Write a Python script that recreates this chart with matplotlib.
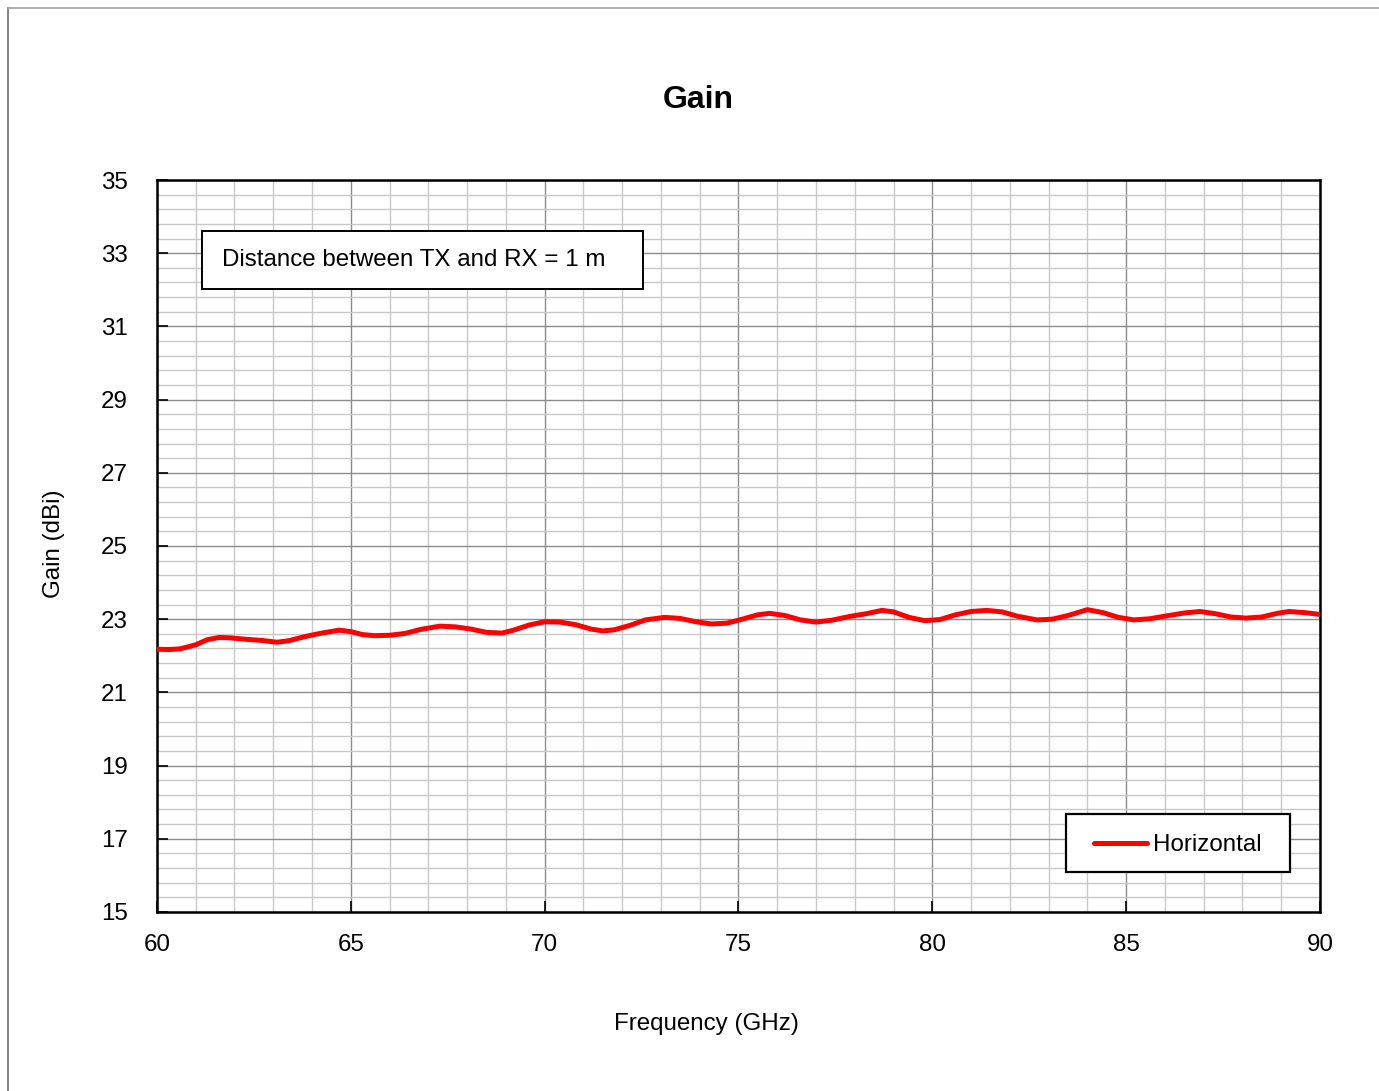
import numpy as np
import matplotlib
matplotlib.use("Agg")
import matplotlib.pyplot as plt
from matplotlib.ticker import MultipleLocator, FixedLocator
from matplotlib.lines import Line2D
from matplotlib.patches import Rectangle

# Gain vs frequency
freq = [60.0, 60.3, 60.6, 61.0, 61.3, 61.6, 61.9, 62.3, 62.7, 63.1, 63.4, 63.8,
        64.2, 64.7, 65.0, 65.3, 65.6, 66.0, 66.4, 66.8, 67.3, 67.7, 68.1, 68.5,
        68.9, 69.2, 69.6, 70.0, 70.4, 70.8, 71.2, 71.5, 71.8, 72.2, 72.6, 73.1,
        73.5, 73.9, 74.3, 74.7, 75.1, 75.5, 75.8, 76.2, 76.6, 77.0, 77.4, 77.9,
        78.3, 78.7, 79.0, 79.4, 79.8, 80.2, 80.6, 81.0, 81.4, 81.8, 82.2, 82.7,
        83.1, 83.5, 84.0, 84.4, 84.8, 85.2, 85.6, 86.1, 86.5, 86.9, 87.3, 87.7,
        88.1, 88.5, 88.9, 89.2, 89.6, 90.0]
gain = [22.18, 22.17, 22.19, 22.30, 22.44, 22.50, 22.49, 22.45, 22.42, 22.37, 22.41, 22.52,
        22.61, 22.70, 22.66, 22.58, 22.55, 22.56, 22.61, 22.72, 22.81, 22.79, 22.73, 22.64,
        22.62, 22.70, 22.84, 22.93, 22.92, 22.85, 22.73, 22.68, 22.71, 22.83, 22.98, 23.05,
        23.02, 22.93, 22.87, 22.89, 23.00, 23.12, 23.16, 23.10, 22.98, 22.92, 22.97, 23.08,
        23.15, 23.24, 23.20, 23.05, 22.96, 22.99, 23.12, 23.21, 23.24, 23.20, 23.08, 22.98,
        23.00, 23.10, 23.26, 23.18, 23.05, 22.98, 23.01, 23.10, 23.17, 23.21, 23.15, 23.06,
        23.03, 23.06, 23.16, 23.21, 23.18, 23.13]
y_ticks = [15, 17, 19, 21, 23, 25, 27, 29, 31, 33, 35]

plt.rcParams["font.family"] = ["Liberation Sans", "DejaVu Sans"]
fs = 17.4

fig = plt.figure(figsize=(13.79, 10.91), dpi=100)
ax = fig.add_axes([0.1138, 0.1641, 0.8434, 0.6709])

ax.plot(freq, gain, color="#ff0000", linewidth=3.6, solid_capstyle="round",
        solid_joinstyle="round", label="Horizontal", zorder=3)

ax.set_xlim(60, 90)
ax.set_ylim(15, 35)
ax.xaxis.set_major_locator(MultipleLocator(5))
ax.xaxis.set_minor_locator(MultipleLocator(1))
ax.yaxis.set_major_locator(FixedLocator(y_ticks))
ax.yaxis.set_minor_locator(FixedLocator(np.arange(15, 35.01, 0.4)))

ax.grid(which="minor", color="#c8c8c8", linewidth=1.0)
ax.grid(which="major", color="#8c8c8c", linewidth=1.0)
ax.set_axisbelow(True)

ax.tick_params(which="major", direction="in", length=8, width=1.2, labelsize=fs)
ax.tick_params(which="minor", length=0)
ax.tick_params(axis="y", pad=21)
ax.tick_params(axis="x", pad=16)
for s in ax.spines.values():
    s.set_linewidth(1.8)
    s.set_color("black")

# text box
ax.add_patch(Rectangle((0.0387, 0.851), 0.3792, 0.0792, transform=ax.transAxes,
                       facecolor="white", edgecolor="black", linewidth=1.4, zorder=4))
ax.text(0.0559, 0.8907, "Distance between TX and RX = 1 m", transform=ax.transAxes,
        fontsize=fs, va="center", ha="left", zorder=5)

# legend: frame drawn separately so the left padding matches
ax.add_patch(Rectangle((0.7816, 0.0546), 0.1926, 0.0792, transform=ax.transAxes,
                       facecolor="white", edgecolor="black", linewidth=1.6, zorder=4))
leg = ax.legend(loc="center left", bbox_to_anchor=(0.8057, 0.0915), borderaxespad=0,
                fontsize=fs, frameon=False, handlelength=2.2, handletextpad=0.25,
                borderpad=0)
leg.set_zorder(5)

fig.text(0.506, 0.908, "Gain", fontsize=23, fontweight="bold", ha="center", va="center")
fig.text(0.512, 0.0615, "Frequency (GHz)", fontsize=fs, ha="center", va="center")
fig.text(0.0395, 0.502, "Gain (dBi)", fontsize=fs, ha="center", va="center", rotation=90)

# outer frame (cropped)
fig.add_artist(Line2D([0.0058, 0.0058], [0.0, 0.9927], color="#707070", linewidth=1.2))
fig.add_artist(Line2D([0.0058, 1.0], [0.9927, 0.9927], color="#a0a0a0", linewidth=1.2))

fig.savefig("out.png", dpi=100)
